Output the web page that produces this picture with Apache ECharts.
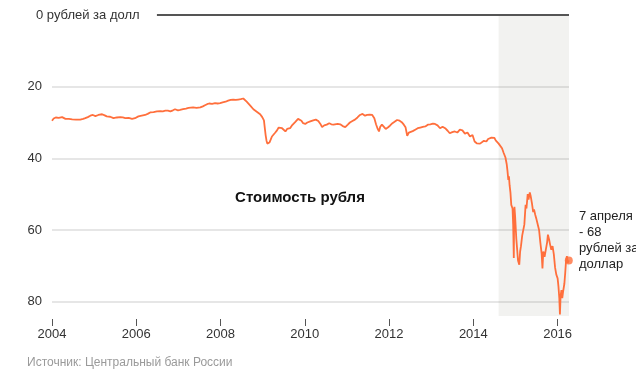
<!DOCTYPE html>
<html>
<head>
<meta charset="utf-8">
<script src="https://cdn.jsdelivr.net/npm/echarts@6/dist/echarts.min.js"></script>
<style>
  html, body { margin: 0; padding: 0; background: #fff; }
  #chart { width: 636px; height: 384px; }
</style>
</head>
<body>
<div id="chart"></div>
<script>
// Decimal years of observations
const dates = [
  2004.00, 2004.04, 2004.09, 2004.16, 2004.24, 2004.32, 2004.40, 2004.48, 2004.57, 2004.67,
  2004.74, 2004.79, 2004.85, 2004.91, 2004.97, 2005.03, 2005.10, 2005.19, 2005.25, 2005.30,
  2005.38, 2005.46, 2005.54, 2005.62, 2005.68, 2005.74, 2005.82, 2005.90, 2005.97, 2006.05,
  2006.13, 2006.21, 2006.27, 2006.33, 2006.41, 2006.49, 2006.57, 2006.63, 2006.69, 2006.75,
  2006.81, 2006.87, 2006.92, 2006.99, 2007.04, 2007.11, 2007.18, 2007.24, 2007.28, 2007.35,
  2007.43, 2007.52, 2007.58, 2007.63, 2007.68, 2007.73, 2007.80, 2007.87, 2007.93, 2007.99,
  2008.05, 2008.12, 2008.18, 2008.24, 2008.30, 2008.36, 2008.42, 2008.48, 2008.54, 2008.58,
  2008.62, 2008.66, 2008.70, 2008.74, 2008.78, 2008.82, 2008.86, 2008.90, 2008.94, 2008.99,
  2009.03, 2009.05, 2009.07, 2009.09, 2009.11, 2009.13, 2009.16, 2009.19, 2009.22, 2009.26,
  2009.30, 2009.34, 2009.38, 2009.42, 2009.46, 2009.50, 2009.54, 2009.58, 2009.61, 2009.65,
  2009.69, 2009.73, 2009.77, 2009.80, 2009.84, 2009.88, 2009.92, 2009.96, 2010.01, 2010.06,
  2010.13, 2010.20, 2010.26, 2010.32, 2010.37, 2010.41, 2010.46, 2010.52, 2010.58, 2010.63,
  2010.68, 2010.72, 2010.78, 2010.84, 2010.90, 2010.96, 2011.02, 2011.07, 2011.13, 2011.19,
  2011.25, 2011.31, 2011.37, 2011.43, 2011.48, 2011.54, 2011.60, 2011.65, 2011.69, 2011.73,
  2011.76, 2011.79, 2011.83, 2011.87, 2011.92, 2011.97, 2012.02, 2012.08, 2012.13, 2012.19,
  2012.25, 2012.30, 2012.35, 2012.39, 2012.43, 2012.47, 2012.51, 2012.56, 2012.62, 2012.68,
  2012.74, 2012.80, 2012.86, 2012.92, 2012.98, 2013.04, 2013.09, 2013.15, 2013.21, 2013.27,
  2013.33, 2013.39, 2013.44, 2013.50, 2013.56, 2013.62, 2013.68, 2013.74, 2013.80, 2013.86,
  2013.92, 2013.98, 2014.03, 2014.08, 2014.11, 2014.16, 2014.20, 2014.25, 2014.31, 2014.35,
  2014.39, 2014.43, 2014.46, 2014.50, 2014.53, 2014.56, 2014.60, 2014.64, 2014.68, 2014.72,
  2014.76, 2014.79, 2014.81, 2014.83, 2014.845, 2014.86, 2014.88, 2014.90, 2014.93, 2014.945,
  2014.96, 2014.965, 2014.975, 2014.99, 2015.02, 2015.04, 2015.06, 2015.09, 2015.11, 2015.13,
  2015.16, 2015.19, 2015.21, 2015.24, 2015.26, 2015.29, 2015.31, 2015.34, 2015.36, 2015.39,
  2015.42, 2015.44, 2015.47, 2015.50, 2015.53, 2015.56, 2015.59, 2015.62, 2015.64, 2015.66,
  2015.69, 2015.72, 2015.75, 2015.77, 2015.80, 2015.82, 2015.85, 2015.88, 2015.91, 2015.94,
  2015.97, 2016.00, 2016.02, 2016.04, 2016.055, 2016.07, 2016.09, 2016.11, 2016.13, 2016.16,
  2016.18, 2016.20, 2016.22, 2016.24, 2016.265
];
// Rubles per US dollar
const rates = [
  29.5, 28.9, 28.6, 28.7, 28.5, 29.0, 29.0, 29.1, 29.2, 29.2,
  29.0, 28.8, 28.5, 28.1, 27.9, 28.2, 27.9, 27.7, 28.0, 28.3,
  28.4, 28.8, 28.6, 28.5, 28.6, 28.8, 28.7, 29.0, 28.8, 28.3,
  28.1, 27.9, 27.6, 27.2, 27.1, 26.9, 26.8, 26.9, 26.7, 26.7,
  26.9, 26.6, 26.3, 26.6, 26.5, 26.3, 26.1, 25.9, 25.8, 25.8,
  25.9, 25.8, 25.5, 25.2, 24.9, 24.7, 24.8, 24.6, 24.7, 24.6,
  24.4, 24.2, 23.9, 23.7, 23.6, 23.7, 23.6, 23.5, 23.3, 23.7,
  24.2, 24.6, 25.2, 25.6, 26.3, 26.6, 27.0, 27.4, 27.7, 28.5,
  29.4, 31.5, 33.5, 35.0, 35.9, 36.4, 35.6, 34.8, 33.9, 33.4,
  32.8, 32.2, 31.4, 31.1, 31.6, 31.9, 32.5, 31.8, 31.4, 31.6,
  30.9, 30.6, 29.9, 29.4, 29.0, 29.1, 29.5, 30.2, 30.4, 30.0,
  29.7, 29.4, 29.2, 29.6, 30.4, 31.3, 30.8, 30.6, 30.2, 30.5,
  30.6, 30.9, 30.4, 30.5, 31.0, 31.3, 30.6, 30.0, 29.6, 29.2,
  28.6, 27.9, 27.6, 28.1, 27.9, 27.8, 27.9, 28.8, 30.5, 31.8,
  32.5, 31.2, 30.6, 31.0, 31.8, 31.4, 30.9, 30.2, 29.8, 29.3,
  29.5, 29.9, 30.6, 31.3, 33.7, 32.8, 33.0, 32.4, 32.0, 31.6,
  31.4, 31.2, 31.1, 30.6, 30.5, 30.3, 30.4, 30.8, 31.6, 31.2,
  31.6, 32.3, 33.0, 32.7, 32.5, 32.8, 32.0, 32.2, 33.1, 32.8,
  33.9, 33.5, 35.3, 35.8, 36.2, 35.9, 35.7, 35.1, 35.3, 34.6,
  34.4, 34.2, 33.9, 34.3, 35.0, 35.3, 35.9, 36.4, 37.2, 38.5,
  39.7, 41.5, 43.5, 46.0, 45.0, 47.5, 49.5, 53.0, 54.0, 58.5,
  67.8, 61.0, 53.5, 56.0, 62.5, 65.5, 68.5, 69.7, 66.0, 64.5,
  61.5, 61.0, 58.5, 53.0, 54.0, 50.0, 51.5, 49.5, 50.5, 52.5,
  55.0, 54.3, 55.8, 57.1, 57.6, 60.0, 63.5, 66.5, 70.7, 66.0,
  67.5, 65.5, 63.5, 61.3, 62.8, 64.0, 65.5, 64.5, 66.8, 70.5,
  72.5, 73.5, 75.8, 79.0, 83.6, 78.5, 76.8, 79.0, 77.2, 75.0,
  72.0, 68.5, 67.3, 69.2, 68.5
];
const xTicks = [2004, 2006, 2008, 2010, 2012, 2014, 2016];
const yTicks = [20, 40, 60, 80];
const shadeRange = [2014.6, 2016.27];
const xRange = [2004, 2016.27];
const yRange = [0, 84];

const FONT = 'Arial, "Liberation Sans", sans-serif';
const seriesData = dates.map((d, i) => [d, rates[i]]);
const last = seriesData[seriesData.length - 1];

const chart = echarts.init(document.getElementById('chart'), null, { renderer: 'canvas' });
chart.setOption({
  animation: false,
  backgroundColor: '#ffffff',
  grid: { left: 52, top: 15, right: 67, bottom: 68, containLabel: false, outerBoundsMode: 'none' },
  xAxis: {
    type: 'value',
    position: 'bottom',
    min: xRange[0],
    max: xRange[1],
    offset: 3,
    axisLine: { show: false, onZero: false },
    axisTick: { show: true, length: 7, customValues: xTicks, lineStyle: { color: '#555', width: 1 } },
    axisLabel: {
      customValues: xTicks,
      formatter: v => String(Math.round(v)),
      color: '#333', fontSize: 13, fontFamily: FONT, margin: 9
    },
    splitLine: { show: false }
  },
  yAxis: {
    type: 'value',
    inverse: true,
    min: yRange[0],
    max: yRange[1],
    axisLine: { show: false, onZero: false },
    axisTick: { show: false, customValues: yTicks },
    axisLabel: {
      customValues: yTicks,
      color: '#333', fontSize: 13, fontFamily: FONT, margin: 10
    },
    splitLine: { show: true, lineStyle: { color: '#e6e6e6', width: 2 } }
  },
  series: [
    {
      type: 'line',
      data: seriesData,
      showSymbol: false,
      lineStyle: { color: '#ff6f3c', width: 1.8 },
      itemStyle: { color: '#ff6f3c' },
      z: 3,
      markArea: {
        silent: true,
        itemStyle: { color: 'rgba(90,90,60,0.08)' },
        data: [[{ xAxis: shadeRange[0] }, { xAxis: shadeRange[1] }]]
      },
      markLine: {
        silent: true,
        symbol: 'none',
        label: { show: false },
        lineStyle: { color: '#555', width: 2, type: 'solid' },
        data: [[{ coord: [2006.49, 0] }, { coord: [xRange[1], 0] }]]
      }
    },
    {
      type: 'scatter',
      data: [last],
      symbol: 'circle',
      symbolSize: 8,
      itemStyle: { color: '#ff6f3c' },
      z: 4
    }
  ],
  graphic: [
    {
      type: 'text', x: 36, y: 15,
      style: { text: '0 рублей за долл', fill: '#333', fontSize: 13, fontFamily: FONT, align: 'left', verticalAlign: 'middle' }
    },
    {
      type: 'text', x: 300, y: 198,
      style: { text: 'Стоимость рубля', fill: '#111', fontSize: 15, fontWeight: 'bold', fontFamily: FONT, align: 'center', verticalAlign: 'middle' }
    },
    {
      type: 'text', x: 579, y: 208,
      style: { text: '7 апреля\n- 68\nрублей за\nдоллар', fill: '#222', fontSize: 13, lineHeight: 16, fontFamily: FONT, align: 'left', verticalAlign: 'top' }
    },
    {
      type: 'text', x: 27, y: 363,
      style: { text: 'Источник: Центральный банк России', fill: '#9a9a9a', fontSize: 12, fontFamily: FONT, align: 'left', verticalAlign: 'middle' }
    }
  ]
});
</script>
</body>
</html>
